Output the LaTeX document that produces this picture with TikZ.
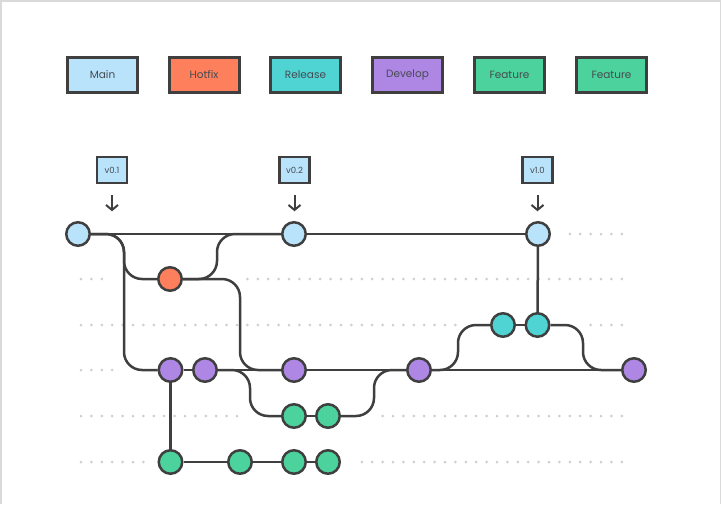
\documentclass[tikz,border=0pt]{standalone}
\usepackage{fontspec}
\setmainfont{Poppins}
\usetikzlibrary{arrows.meta,backgrounds}
\definecolor{ink}{HTML}{3F3F3F}
\definecolor{txt}{HTML}{464B52}
\definecolor{mainc}{HTML}{B8E3FB}
\definecolor{hotc}{HTML}{FD7F5B}
\definecolor{relc}{HTML}{4FD3D3}
\definecolor{devc}{HTML}{AE86E4}
\definecolor{featc}{HTML}{4CD29C}
\definecolor{dotgray}{HTML}{CFCFCF}
\definecolor{framec}{HTML}{DADADA}
\begin{document}
\begin{tikzpicture}[x=1pt,y=-1pt,
  commit/.style={circle,draw=ink,line width=2.5pt,minimum size=23.5pt,inner sep=0pt},
  legend/.style={draw=ink,line width=3pt,minimum width=70pt,minimum height=35pt,inner sep=0pt,font=\fontsize{10.5}{12}\selectfont,text=txt},
  tag/.style={draw=ink,line width=2.5pt,fill=mainc,minimum width=30pt,minimum height=26pt,inner sep=0pt,font=\fontsize{8.5}{9}\selectfont,text=txt},
  branch/.style={draw=ink,line width=2.5pt,rounded corners=18pt},
  tagarrow/.style={draw=ink,line width=2pt,-{Straight Barb[length=5pt,width=12pt,line width=2pt]}},
  gdot/.style={fill=dotgray}]
\useasboundingbox (0,0) rectangle (721,504);
% legend
\node[legend,fill=mainc] (lmain) at (102.5,75) {Main};
\node[legend,fill=hotc] (lhot) at (204,75) {Hotfix};
\node[legend,fill=relc] (lrel) at (305.5,75) {Release};
\node[legend,fill=devc] (ldev) at (407.5,75) {Develop};
\node[legend,fill=featc] (lfeat1) at (509.5,75) {Feature};
\node[legend,fill=featc] (lfeat2) at (611.5,75) {Feature};
% tags
\node[tag] (t1) at (112,170) {v0.1};
\node[tag] (t2) at (294.5,170) {v0.2};
\node[tag] (t3) at (537.5,170) {v1.0};
% commits
\node[commit,fill=mainc] (m1) at (78,234) {};
\node[commit,fill=mainc] (m2) at (294,234) {};
\node[commit,fill=mainc] (m3) at (538,234) {};
\node[commit,fill=hotc] (h1) at (170,279) {};
\node[commit,fill=relc] (r1) at (503,325) {};
\node[commit,fill=relc] (r2) at (537.5,325) {};
\node[commit,fill=devc] (d1) at (170.5,370) {};
\node[commit,fill=devc] (d2) at (205,370) {};
\node[commit,fill=devc] (d3) at (294,370) {};
\node[commit,fill=devc] (d4) at (419,370) {};
\node[commit,fill=devc] (d5) at (634,370) {};
\node[commit,fill=featc] (f1) at (294,416) {};
\node[commit,fill=featc] (f2) at (328,416) {};
\node[commit,fill=featc] (g1) at (170.5,462) {};
\node[commit,fill=featc] (g2) at (240,462) {};
\node[commit,fill=featc] (g3) at (294,462) {};
\node[commit,fill=featc] (g4) at (328,462) {};
% tag arrows
\draw[tagarrow] (t1.south) ++(0,11) -- ++(0,16);
\draw[tagarrow] (t2.south) ++(0,11) -- ++(0,16);
\draw[tagarrow] (t3.south) ++(0,11) -- ++(0,16);
\begin{scope}[on background layer]
  % frame
  \draw[framec,line width=1.5pt] (0.75,504) -- (0.75,0.75) -- (720.25,0.75) -- (720.25,504);
  % dotted guide rows
  \foreach \k in {47,...,52} \fill[gdot] (81+10.4*\k,234) circle (1.5);
  \foreach \k in {0,...,2} \fill[gdot] (81+10.4*\k,279) circle (1.5);
  \foreach \k in {16,...,52} \fill[gdot] (81+10.4*\k,279) circle (1.5);
  \foreach \k in {0,...,36} \fill[gdot] (81+10.4*\k,325) circle (1.5);
  \foreach \k in {49,...,52} \fill[gdot] (81+10.4*\k,325) circle (1.5);
  \foreach \k in {0,...,3} \fill[gdot] (81+10.4*\k,370) circle (1.5);
  \foreach \k in {0,...,15} \fill[gdot] (81+10.4*\k,416) circle (1.5);
  \foreach \k in {29,...,52} \fill[gdot] (81+10.4*\k,416) circle (1.5);
  \foreach \k in {0,...,6} \fill[gdot] (81+10.4*\k,462) circle (1.5);
  \foreach \k in {27,...,52} \fill[gdot] (81+10.4*\k,462) circle (1.5);
  % branches
  \draw[branch] (m1) -- (m2) -- (m3);
  \draw[branch] (m1) -| (124,279) -- (h1);
  \draw[branch] (m1) -| (124,370) -- (d1);
  \draw[branch] (h1) -| (217,234) -- (m2);
  \draw[branch] (h1) -| (240,370) -- (d3);
  \draw[branch] (d1) -- (d2) -- (d3) -- (d4) -- (d5);
  \draw[branch] (d2) -| (250,416) -- (f1);
  \draw[branch] (f1) -- (f2);
  \draw[branch] (f2) -| (374,370) -- (d4);
  \draw[branch] (d1) -- (g1);
  \draw[branch] (g1) -- (g2) -- (g3) -- (g4);
  \draw[branch] (d4) -| (458,325) -- (r1);
  \draw[branch] (r1) -- (r2);
  \draw[branch] (r2) -| (583,370) -- (d5);
  \draw[branch] (r2) -- (m3);
\end{scope}
\end{tikzpicture}
\end{document}
